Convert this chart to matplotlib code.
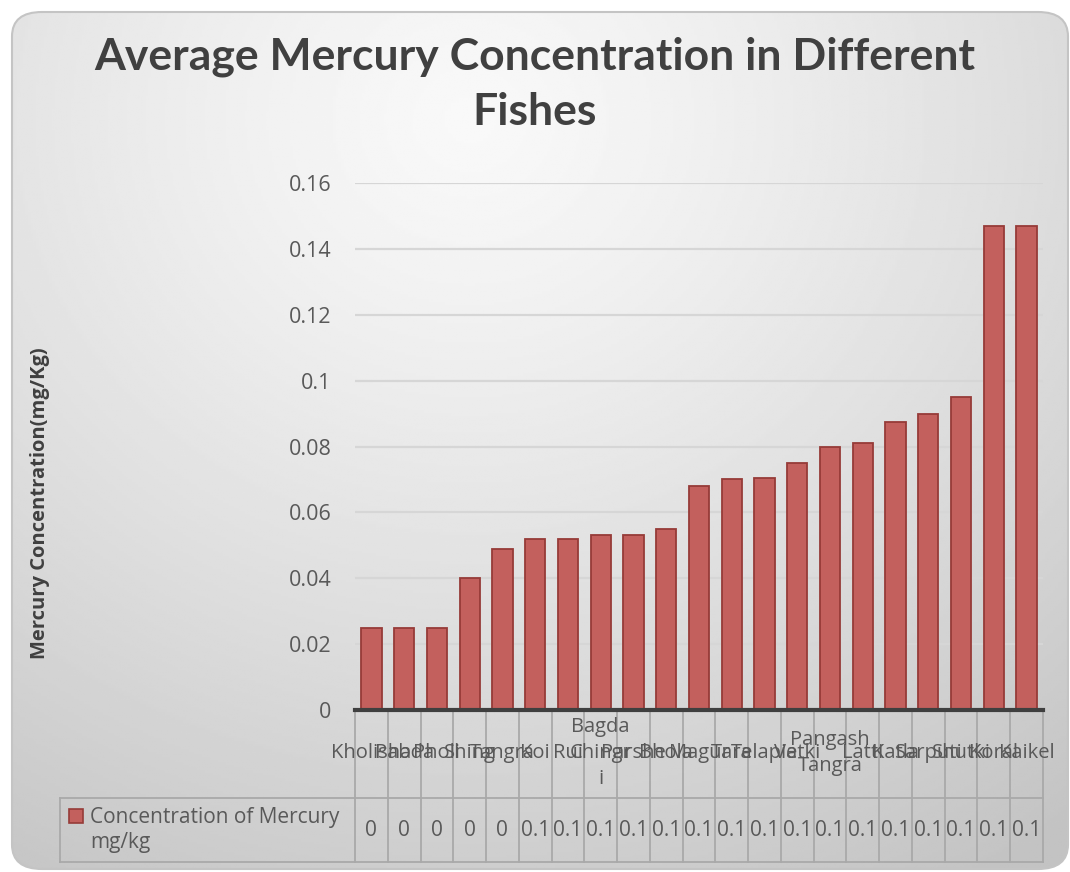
import numpy as np
import matplotlib.pyplot as plt
from matplotlib.patches import FancyBboxPatch, Rectangle
from matplotlib.transforms import blended_transform_factory

# Fish names (wrapped the way the category cells wrap them) and average Hg values
fishes = [
    "Kholisha", "Pabda", "Pholi", "Shing", "Tangra", "Koi", "Rui",
    "Bagda\nChingr\ni", "Parshe", "Bhola", "Magur", "Tara", "Telapia",
    "Vetki", "Pangash\nTangra", "Latti", "Katla", "Sarputi", "Shutki",
    "Koral", "Kaikel",
]
mercury = [
    0.025, 0.025, 0.025, 0.040, 0.049, 0.052, 0.052, 0.053, 0.053, 0.055,
    0.068, 0.070, 0.0705, 0.075, 0.080, 0.081, 0.0875, 0.090, 0.095,
    0.147, 0.147,
]
y_ticks = [0, 0.02, 0.04, 0.06, 0.08, 0.10, 0.12, 0.14, 0.16]
y_tick_labels = ["0", "0.02", "0.04", "0.06", "0.08", "0.1", "0.12", "0.14", "0.16"]
series_name = "Concentration of Mercury\nmg/kg"
chart_title = "Average Mercury Concentration in Different\nFishes"
y_title = "Mercury Concentration(mg/Kg)"

plt.rcParams["font.family"] = ["Open Sans", "DejaVu Sans"]

W, H = 1070, 872
BAR_FACE = "#c3605d"
BAR_EDGE = "#963b38"
TEXT = "#595959"
GRID_LINE = "#a9a9a9"


def fx(px):
    return px / W


def fy(py):
    return 1 - py / H


fig = plt.figure(figsize=(W / 100, H / 100), dpi=100)
fig.patch.set_facecolor("white")

# rounded chart frame with a soft radial grey gradient
bg = fig.add_axes([0, 0, 1, 1], zorder=-5)
bg.set_axis_off()
gx, gy = np.meshgrid(np.linspace(0, W, 400), np.linspace(0, H, 330))
dist = np.hypot(gx - 470, (gy - 120) * 1.1) / 980
shade = 0.975 - 0.21 * np.clip(dist, 0, 1) ** 1.25
frame = FancyBboxPatch((fx(12), fy(869)), fx(1056), 857 / H,
                       boxstyle="round,pad=0,rounding_size=0.028",
                       transform=fig.transFigure, facecolor="none",
                       edgecolor="#c4c4c4", linewidth=1.5)
img = bg.imshow(shade, cmap="gray", vmin=0, vmax=1, extent=[0, 1, 0, 1],
                aspect="auto", transform=fig.transFigure)
img.set_clip_path(frame)
fig.add_artist(frame)

ax = fig.add_axes([fx(355), fy(710), fx(1043 - 355), (710 - 183) / H])
ax.patch.set_alpha(0)
x = np.arange(len(fishes))
ax.bar(x, mercury, width=0.62, color=BAR_FACE, edgecolor=BAR_EDGE,
       linewidth=1.3, zorder=3)
ax.set_xlim(-0.5, len(fishes) - 0.5)
ax.set_ylim(0, 0.16)
ax.set_yticks(y_ticks)
ax.set_yticklabels(y_tick_labels, fontsize=15.5, color=TEXT)
ax.tick_params(axis="y", length=0, pad=17)
ax.set_xticks([])
ax.grid(axis="y", color="#d6d6d6", linewidth=1.6, zorder=0)
for side in ("left", "right", "top"):
    ax.spines[side].set_visible(False)
ax.spines["bottom"].set_color("#3f3f3f")
ax.spines["bottom"].set_linewidth(3)
ax.spines["bottom"].set_zorder(4)

# data table underneath the bars
tr = blended_transform_factory(ax.transData, fig.transFigure)
row_top, row_mid, row_bot = 710, 798, 862
for b in np.arange(len(fishes) + 1) - 0.5:
    ax.plot([b, b], [fy(row_top), fy(row_bot)], transform=tr, color=GRID_LINE,
            linewidth=1.3, clip_on=False, zorder=2)
for yy in (row_mid, row_bot):
    fig.add_artist(plt.Line2D([fx(60), fx(1043)], [fy(yy), fy(yy)],
                              color=GRID_LINE, linewidth=1.3))
fig.add_artist(plt.Line2D([fx(60), fx(60)], [fy(row_mid), fy(row_bot)],
                          color=GRID_LINE, linewidth=1.3))

for xi, name, v in zip(x, fishes, mercury):
    ax.text(xi, fy(753), name, transform=tr, ha="center", va="center",
            ma="center", fontsize=14.5, color=TEXT, linespacing=1.4)
    val = f"{v:.1f}"
    val = "0" if float(val) == 0 else val
    ax.text(xi, fy(830), val, transform=tr, ha="center", va="center",
            fontsize=15, color=TEXT)

# legend key inside the table's first column
fig.add_artist(Rectangle((fx(69), fy(823)), fx(14), 14 / H, facecolor=BAR_FACE,
                         edgecolor=BAR_EDGE, linewidth=1.2,
                         transform=fig.transFigure))
fig.text(fx(90), fy(830), series_name, ha="left", va="center", fontsize=15,
         color=TEXT, linespacing=1.25)

fig.text(fx(535), fy(84), chart_title, ha="center", va="center", fontsize=32,
         fontweight="bold", family=["Lato", "DejaVu Sans"], color="#404040",
         linespacing=1.45)
fig.text(fx(40), fy(503), y_title, rotation=90, ha="center", va="center",
         fontsize=14.5, fontweight="bold", color="#404040")

fig.savefig("out.png", dpi=100)
